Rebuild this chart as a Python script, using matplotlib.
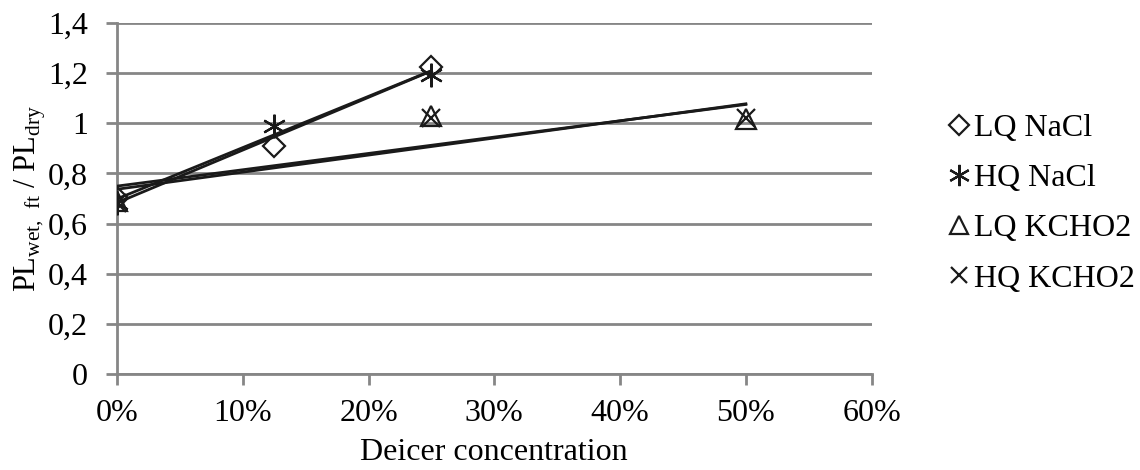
import numpy as np
import matplotlib.pyplot as plt
from matplotlib.ticker import FuncFormatter

# Deicer concentration (fraction) and PL_wet,ft / PL_dry ratios
nacl_conc = [0.0, 0.125, 0.25]
lq_nacl = [0.70, 0.91, 1.225]
hq_nacl = [0.68, 0.99, 1.19]

kcho2_conc = [0.0, 0.25, 0.5]
lq_kcho2 = [0.69, 1.03, 1.015]
hq_kcho2 = [0.68, 1.02, 1.02]

x_ticks = [0.0, 0.1, 0.2, 0.3, 0.4, 0.5, 0.6]
y_ticks = [0.0, 0.2, 0.4, 0.6, 0.8, 1.0, 1.2, 1.4]


def main():
    plt.rcParams["font.family"] = ["Liberation Serif", "DejaVu Serif"]
    plt.rcParams["mathtext.fontset"] = "custom"
    plt.rcParams["mathtext.rm"] = "Liberation Serif"
    grey = "#868686"

    fig = plt.figure(figsize=(11.4, 4.7), dpi=100)
    ax = fig.add_axes([0.1026, 0.2035, 0.6620, 0.7485])

    series = [
        (nacl_conc, lq_nacl, "D", "LQ NaCl", 11, "none"),
        (nacl_conc, hq_nacl, (6, 2, 0), "HQ NaCl", 17, "k"),
        (kcho2_conc, lq_kcho2, "^", "LQ KCHO2", 14, "none"),
        (kcho2_conc, hq_kcho2, "x", "HQ KCHO2", 13, "k"),
    ]

    for xs, ys, marker, label, size, face in series:
        xs = np.array(xs)
        ys = np.array(ys)
        ax.plot(xs, ys, linestyle="none", marker=marker, markersize=size,
                markerfacecolor=face, markeredgecolor="#1a1a1a",
                markeredgewidth=1.6, label=label, zorder=4)
        # linear trendline over the data range
        slope, intercept = np.polyfit(xs, ys, 1)
        xl = np.array([xs.min(), xs.max()])
        ax.plot(xl, slope * xl + intercept, color="#1a1a1a", lw=2.0, zorder=3)

    ax.set_xlim(0, 0.6)
    ax.set_ylim(0, 1.4)
    ax.set_xticks(x_ticks)
    ax.set_yticks(y_ticks)
    ax.xaxis.set_major_formatter(FuncFormatter(lambda v, p: f"{v * 100:.0f}%"))
    ax.yaxis.set_major_formatter(
        FuncFormatter(lambda v, p: f"{v:.1f}".replace(".", ",") if v not in (0, 1) else f"{v:.0f}"))

    ax.grid(axis="y", color=grey, lw=2.0)
    ax.set_axisbelow(True)
    for side in ["top", "right"]:
        ax.spines[side].set_visible(False)
    for side in ["left", "bottom"]:
        ax.spines[side].set_color(grey)
        ax.spines[side].set_linewidth(2.0)
    ax.tick_params(axis="both", colors=grey, length=8, width=2.0, labelsize=23,
                   labelcolor="black")
    ax.tick_params(axis="x", pad=10)
    ax.tick_params(axis="y", pad=13)

    ax.set_xlabel("Deicer concentration", fontsize=23, labelpad=7)
    ax.set_ylabel(r"PL$_{\mathregular{wet,\ ft}}$ / PL$_{\mathregular{dry}}$", fontsize=22)
    ax.yaxis.set_label_coords(-0.091, 0.5)

    ax.legend(loc="center left", bbox_to_anchor=(1.077, 0.485), frameon=False,
              fontsize=23, handletextpad=0.0, handlelength=1.0, labelspacing=0.65,
              borderaxespad=0, markerscale=0.9)

    fig.savefig("out.png", dpi=100)


if __name__ == "__main__":
    main()
